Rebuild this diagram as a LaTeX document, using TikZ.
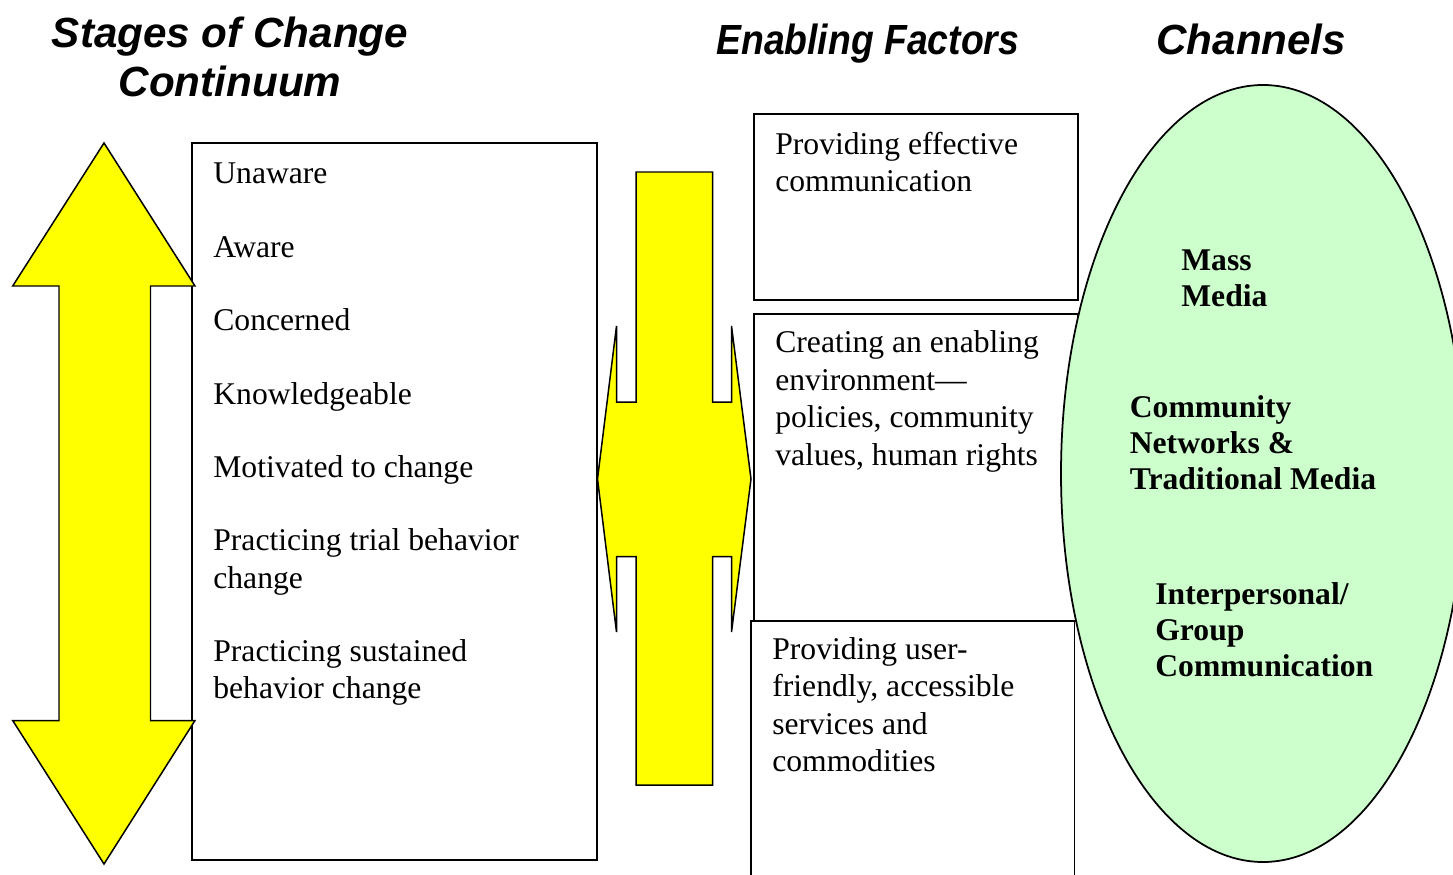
\documentclass[tikz,border=0pt]{standalone}
\usepackage{fontspec}
\usepackage{graphicx}
\setmainfont{Liberation Serif}
\newfontfamily\headfont{Liberation Sans}
\definecolor{arrowyellow}{HTML}{FFFF00}
\definecolor{channelgreen}{HTML}{CCFFCC}
\tikzset{
	stage/.style={anchor=base west, inner sep=0, align=left, font=\fontsize{18}{21.26}\selectfont},
	channel/.style={anchor=base west, inner sep=0, align=left, font=\fontsize{18}{20.6}\selectfont\bfseries},
	heading/.style={anchor=base, inner sep=0, align=center, font=\headfont\fontsize{24}{27.8}\selectfont\bfseries\itshape},
	panel/.style={draw, fill=white, line width=1pt},
	bigarrow/.style={draw, fill=arrowyellow, line width=0.85pt, line join=miter},
}
\begin{document}
\begin{tikzpicture}[x=0.02cm, y=-0.02cm]
	\useasboundingbox (0,0) rectangle (1453,875);
	\clip (0,0) rectangle (1453,875);
	% headings (multi-line nodes sit on their last line)
	\node [heading] (stagetitle) at (230,96) {Stages of Change\\Continuum};
	\node [heading, anchor=base west] (factortitle) at (716,55) {\scalebox{0.885}[1]{Enabling Factors}};
	\node [heading, anchor=base west] (channeltitle) at (1156,55) {Channels};
	% stages column
	\draw [panel] (192,143) rectangle (597,860);
	\draw [bigarrow] (104,143) -- (195,286) -- (150.5,286) -- (150.5,720.5) -- (195,720.5)
		-- (104,864) -- (12.7,720.5) -- (59,720.5) -- (59,286) -- (12.7,286) -- cycle;
	% middle cross arrow
	\draw [bigarrow] (636,172) -- (712.5,172) -- (712.5,402) -- (731.5,402) -- (731.5,326)
		-- (751,479) -- (731.5,632) -- (731.5,556.5) -- (712.5,556.5) -- (712.5,785)
		-- (636,785) -- (636,556.5) -- (616.5,556.5) -- (616.5,632) -- (597.5,479)
		-- (616.5,326) -- (616.5,402) -- (636,402) -- cycle;
	% enabling factors
	\draw [panel] (754,114) rectangle (1078,300);
	\draw [panel] (754,314) rectangle (1078,621);
	\draw [panel] (751,621) rectangle (1074.5,900);
	% channels
	\draw [line width=1pt, fill=channelgreen] (1263,473.5) ellipse [x radius=202, y radius=388.5];
	\node [stage] (unaware) at (213,183.5) {Unaware};
	\node [stage] (aware) at (213,257) {Aware};
	\node [stage] (concerned) at (213,330.5) {Concerned};
	\node [stage] (knowledge) at (213,404) {Knowledgeable};
	\node [stage] (motivated) at (213,477.5) {Motivated to change};
	\node [stage] (trial) at (213,588) {Practicing trial behavior\\change};
	\node [stage] (sustained) at (213,698.5) {Practicing sustained\\behavior change};
	\node [stage] (communicate) at (775,191.5) {Providing effective\\communication};
	\node [stage] (environment) at (775,465) {Creating an enabling\\environment---\\policies, community\\values, human rights};
	\node [stage] (services) at (772,771.5) {Providing user-\\friendly, accessible\\services and\\commodities};
	\node [channel] (mass) at (1181,306.5) {Mass\\Media};
	\node [channel] (community) at (1129.5,489.5) {Community\\Networks \&\\Traditional Media};
	\node [channel] (personal) at (1155,676.5) {Interpersonal/\\Group\\Communication};
\end{tikzpicture}
\end{document}
